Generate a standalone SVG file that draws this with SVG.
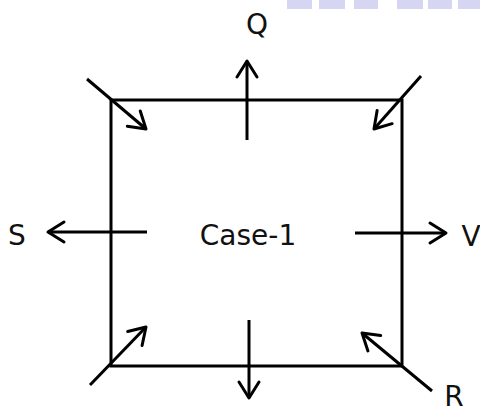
<svg xmlns="http://www.w3.org/2000/svg" width="480" height="413" viewBox="0 0 480 413">
<style>
.ln{stroke:#000;stroke-width:3;fill:none}
.t{font-family:"DejaVu Sans",Verdana,sans-serif;font-size:28px;fill:#111}
.wm{fill:#d6d6f2}
</style>
<defs>
<marker id="ah" markerUnits="userSpaceOnUse" markerWidth="30" markerHeight="30" refX="20" refY="15" orient="auto" viewBox="0 0 30 30">
<path d="M4,5 L20,15 L4,25" stroke="#000" stroke-width="3" fill="none" stroke-linecap="round" stroke-linejoin="round"/>
</marker>
</defs>
<g id="watermark">
<rect class="wm" x="287" y="0" width="25" height="9"/>
<rect class="wm" x="319" y="0" width="26" height="9"/>
<rect class="wm" x="354" y="0" width="24" height="9"/>
<rect class="wm" x="397" y="0" width="26" height="9"/>
<rect class="wm" x="428" y="0" width="24" height="9"/>
<rect class="wm" x="458" y="0" width="22" height="9"/>
</g>
<g id="box">
<rect class="ln" x="111" y="100" width="291" height="266"/>
<text class="t" x="248" y="245" text-anchor="middle">Case-1</text>
</g>
<g id="connectors">
<line class="ln" x1="87" y1="79" x2="146" y2="129" marker-end="url(#ah)"/>
<line class="ln" x1="421" y1="76" x2="374" y2="129" marker-end="url(#ah)"/>
<line class="ln" x1="247" y1="140" x2="247" y2="61" marker-end="url(#ah)"/>
<line class="ln" x1="147" y1="232" x2="48" y2="232" marker-end="url(#ah)"/>
<line class="ln" x1="355" y1="233" x2="446" y2="233" marker-end="url(#ah)"/>
<line class="ln" x1="90" y1="385" x2="146" y2="327" marker-end="url(#ah)"/>
<line class="ln" x1="249" y1="320" x2="249" y2="398" marker-end="url(#ah)"/>
<line class="ln" x1="432" y1="391" x2="362" y2="333" marker-end="url(#ah)"/>
</g>
<g id="labels">
<text class="t" x="257" y="34" text-anchor="middle">Q</text>
<text class="t" x="17" y="245" text-anchor="middle">S</text>
<text class="t" x="471" y="246" text-anchor="middle">V</text>
<text class="t" x="454" y="406" text-anchor="middle">R</text>
</g>
</svg>
